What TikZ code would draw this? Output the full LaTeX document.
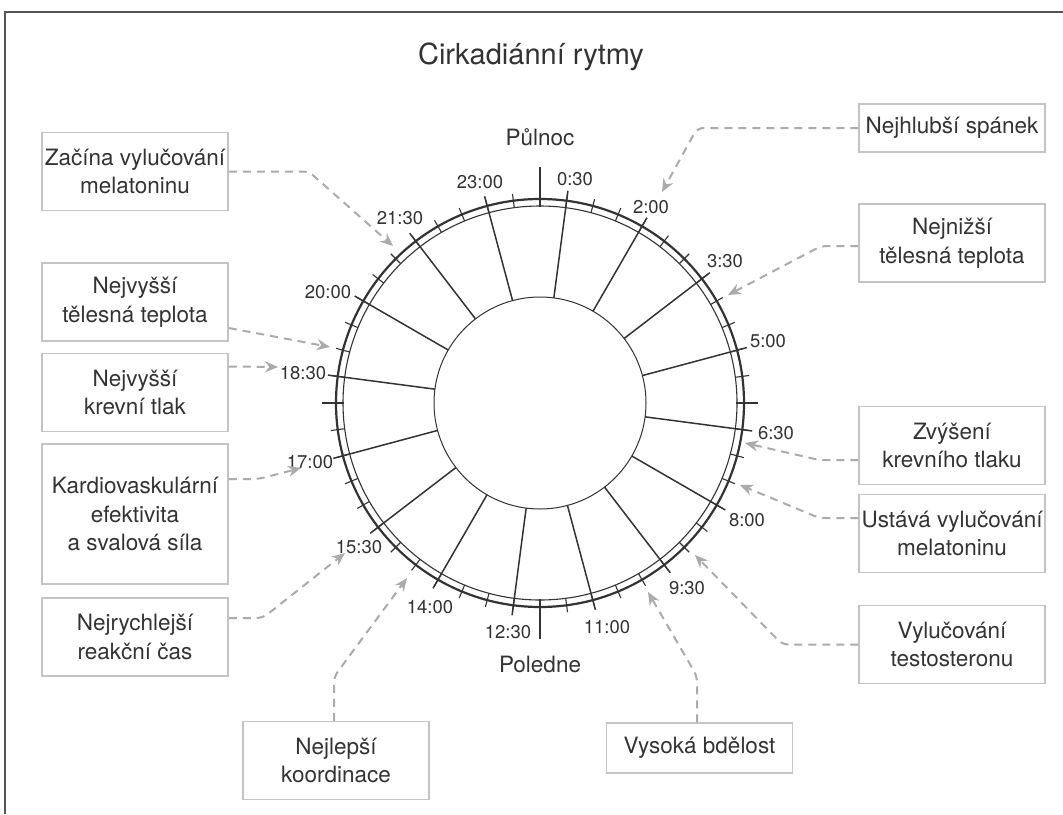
\documentclass[tikz,border=0pt]{standalone}
\usepackage{fontspec}
\setmainfont{TeX Gyre Heros}
\usetikzlibrary{arrows.meta}
\definecolor{inkgray}{HTML}{333333}
\definecolor{boxgray}{HTML}{C4C4C4}
\definecolor{dashgray}{HTML}{ABABAB}
\definecolor{framegray}{HTML}{555555}

\begin{document}
\begin{tikzpicture}[x=1pt,y=-1pt,
    every node/.style={text=inkgray},
    event/.style={draw=boxgray,line width=1.5pt,minimum width=186pt,minimum height=78pt,
      align=center,inner sep=0pt,font=\fontsize{22.5}{28.5}\selectfont},
    timelab/.style={inner sep=0pt,font=\fontsize{18.5}{20}\selectfont},
    pointer/.style={draw=dashgray,line width=2pt,dash pattern=on 8pt off 6pt,
      rounded corners=6pt,-{Stealth[length=13pt,width=11pt,fill=dashgray]}},
    spoke/.style={draw=inkgray,line width=1.5pt},
    bigtick/.style={draw=inkgray,line width=2.4pt}]
  \useasboundingbox (0,0) rectangle (1063,814);
  \draw[framegray,line width=1.5pt] (5,814) -- (5,12) -- (1063,12);

  \node[font=\fontsize{29}{32}\selectfont] (title) at (531,57) {Cirkadiánní rytmy};

  % the clock
  \begin{scope}[shift={(540,403)}]
    \draw[inkgray,line width=1pt] (0,0) circle[radius=106];
    \draw[inkgray,line width=1.1pt] (0,0) circle[radius=197];
    \draw[inkgray,line width=2.2pt] (0,0) circle[radius=204];
    \foreach \i in {0,...,47}
      \draw[inkgray,line width=1.1pt] (7.5*\i:197) -- (7.5*\i:211);
    \foreach \i in {0,...,15}
      \draw[spoke] (22.5*\i-82.5:106) -- (22.5*\i-82.5:214);
    \foreach \a in {0,180}
      \draw[bigtick] (\a:196) -- (\a:218);
    \foreach \a in {90,270}
      \draw[bigtick] (\a:196) -- (\a:236);
  \end{scope}
  \node[font=\fontsize{22.5}{24}\selectfont] (pulnoc) at (540,137) {Půlnoc};
  \node[font=\fontsize{22.5}{24}\selectfont] (poledne) at (540,664) {Poledne};
  \foreach \lab/\x/\y in {0:30/575/179, 2:00/651/207, 3:30/725/261, 5:00/768/341,
      6:30/776/433, 8:00/747/520, 9:30/687/588, 11:00/607/627, 12:30/508/632,
      14:00/430/607, 15:30/359/547, 17:00/310/462, 18:30/303/373, 20:00/328/292,
      21:30/400/218, 23:00/480/182}
    \node[timelab] (time\x) at (\x,\y) {\lab};

  % left column
  \node[event] (zacina) at (135,171.5) {Začína vylučování\\melatoninu};
  \node[event] (nejvyssiTep) at (135,302) {Nejvyšší\\tělesná teplota};
  \node[event] (nejvyssiTlak) at (135,392.5) {Nejvyšší\\krevní tlak};
  \node[event,minimum height=140pt] (kardio) at (135,514) {Kardiovaskulární\\efektivita\\a svalová síla};
  \node[event] (reakce) at (135,637) {Nejrychlejší\\reakční čas};
  % bottom
  \node[event] (koordinace) at (336,760.5) {Nejlepší\\koordinace};
  \node[event,minimum height=50pt] (bdelost) at (699.5,748) {Vysoká bdělost};
  % right column
  \node[event,minimum height=48pt] (spanek) at (952,128) {Nejhlubší spánek};
  \node[event] (nejnizsi) at (952,243) {Nejnižší\\tělesná teplota};
  \node[event] (zvyseni) at (952,445.5) {Zvýšení\\krevního tlaku};
  \node[event] (ustava) at (952,533.5) {Ustává vylučování\\melatoninu};
  \node[event] (testosteron) at (952,644.5) {Vylučování\\testosteronu};

  \coordinate (tipZacina) at (393,246);
  \coordinate (tipTep) at (330,347);
  \coordinate (tipTlak) at (278,367);
  \coordinate (tipKardio) at (301,468);
  \coordinate (tipReakce) at (345,553);
  \coordinate (tipKoord) at (407,578);
  \coordinate (tipBdelost) at (648,592);
  \coordinate (tipSpanek) at (662,192);
  \coordinate (tipNejnizsi) at (728,295);
  \coordinate (tipZvyseni) at (745,443);
  \coordinate (tipUstava) at (740,485);
  \coordinate (tipTesto) at (695,555);

  \draw[pointer] (zacina.east) -- ++(80,0) -- (tipZacina);
  \draw[pointer] ([yshift=-26pt]nejvyssiTep.east) -- (tipTep);
  \draw[pointer] ([yshift=26pt]nejvyssiTlak.east) -- (tipTlak);
  \draw[pointer] ([yshift=35pt]kardio.east) -- ++(30,0) -- (tipKardio);
  \draw[pointer] ([yshift=19pt]reakce.east) -- ++(34,0) -- (tipReakce);
  \draw[pointer] ([xshift=-2pt]koordinace.north) -- ++(0,-44) -- (tipKoord);
  \draw[pointer] ([xshift=-2.5pt]bdelost.north) -- ++(0,-46) -- (tipBdelost);
  \draw[pointer] (spanek.west) -- ++(-161,0) -- (tipSpanek);
  \draw[pointer] ([yshift=-3pt]nejnizsi.west) -- ++(-37,0) -- (tipNejnizsi);
  \draw[pointer] ([yshift=-14.5pt]zvyseni.west) -- ++(-39,0) -- (tipZvyseni);
  \draw[pointer] ([yshift=15.5pt]ustava.west) -- ++(-39,0) -- (tipUstava);
  \draw[pointer] (testosteron.west) -- ++(-76,0) -- (tipTesto);
\end{tikzpicture}
\end{document}
